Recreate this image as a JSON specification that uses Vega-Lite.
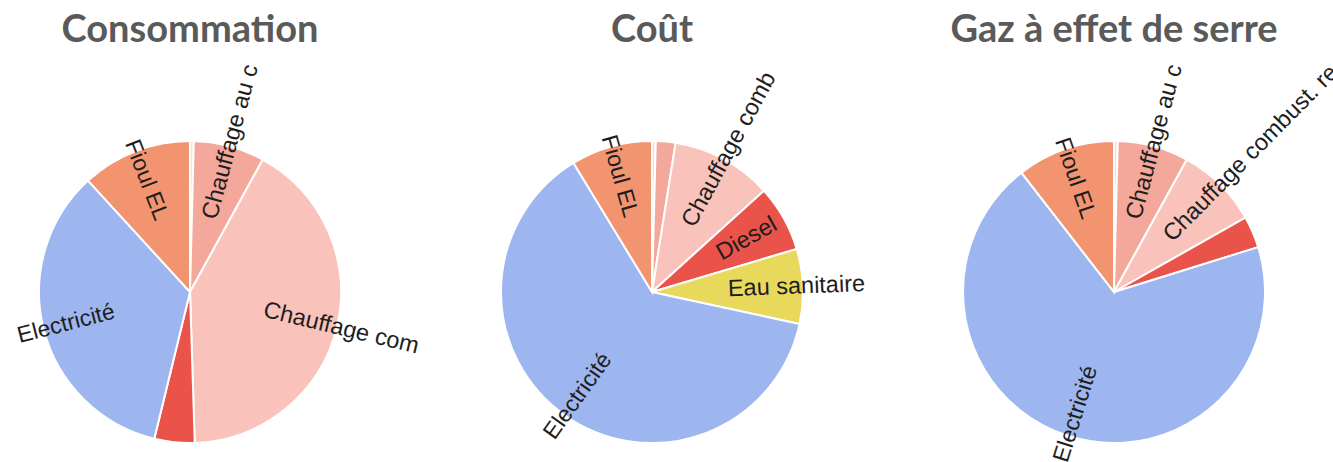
{
  "$schema": "https://vega.github.io/schema/vega-lite/v6.json",
  "padding": {"left": 0, "right": 0, "top": 12, "bottom": 0},
  "bounds": "flush",
  "spacing": 82,
  "background": "white",
  "data": {
    "values": [
      {"panel": "Consommation", "cat": "Autres", "label": "", "v": 0.4},
      {"panel": "Consommation", "cat": "Chauffage au c", "label": "Chauffage au c", "v": 7.6},
      {"panel": "Consommation", "cat": "Chauffage combust. re", "label": "Chauffage com", "v": 41.5},
      {"panel": "Consommation", "cat": "Diesel", "label": "Diesel", "v": 4.3},
      {"panel": "Consommation", "cat": "Electricité", "label": "Electricité", "v": 34.4},
      {"panel": "Consommation", "cat": "Fioul EL", "label": "Fioul EL", "v": 11.8},
      {"panel": "Coût", "cat": "Autres", "label": "", "v": 0.4},
      {"panel": "Coût", "cat": "Chauffage au c", "label": "Chauffage au c", "v": 2.1},
      {"panel": "Coût", "cat": "Chauffage combust. re", "label": "Chauffage comb", "v": 10.8},
      {"panel": "Coût", "cat": "Diesel", "label": "Diesel", "v": 7.1},
      {"panel": "Coût", "cat": "Eau sanitaire", "label": "Eau sanitaire", "v": 8.0},
      {"panel": "Coût", "cat": "Electricité", "label": "Electricité", "v": 62.9},
      {"panel": "Coût", "cat": "Fioul EL", "label": "Fioul EL", "v": 8.7},
      {"panel": "Gaz à effet de serre", "cat": "Autres", "label": "", "v": 0.4},
      {"panel": "Gaz à effet de serre", "cat": "Chauffage au c", "label": "Chauffage au c", "v": 7.6},
      {"panel": "Gaz à effet de serre", "cat": "Chauffage combust. re", "label": "Chauffage combust. re", "v": 8.8},
      {"panel": "Gaz à effet de serre", "cat": "Diesel", "label": "Diesel", "v": 3.4},
      {"panel": "Gaz à effet de serre", "cat": "Electricité", "label": "Electricité", "v": 69.3},
      {"panel": "Gaz à effet de serre", "cat": "Fioul EL", "label": "Fioul EL", "v": 10.5}
    ]
  },
  "facet": {
    "column": {
      "field": "panel",
      "type": "nominal",
      "sort": ["Consommation", "Coût", "Gaz à effet de serre"],
      "header": {
        "title": null,
        "labelFont": "Lato",
        "labelFontSize": 38,
        "labelFontWeight": "bold",
        "labelColor": "#5a5a5a",
        "labelPadding": 72
      }
    }
  },
  "spec": {
    "width": 380,
    "height": 340,
    "layer": [
      {
        "mark": {"type": "arc", "outerRadius": 151, "stroke": "white", "strokeWidth": 2},
        "encoding": {
          "theta": {"field": "v", "type": "quantitative", "stack": true},
          "color": {
            "field": "cat",
            "type": "nominal",
            "legend": null,
            "scale": {
              "domain": ["Autres", "Chauffage au c", "Chauffage combust. re", "Diesel", "Eau sanitaire", "Electricité", "Fioul EL"],
              "range": ["#f6dcd6", "#f4a79b", "#f9c3bc", "#ea534a", "#e8d95c", "#9db6ef", "#f39470"]
            }
          }
        }
      },
      {
        "transform": [
          {"fold": ["v", "v"], "as": ["k", "vv"]},
          {"window": [{"op": "row_number", "as": "copy"}], "groupby": ["panel", "cat"]},
          {"window": [{"op": "sum", "field": "vv", "as": "cum2"}], "groupby": ["panel"], "sort": [{"field": "cat"}, {"field": "copy"}], "frame": [null, 0]},
          {"filter": "datum.copy == 1 && datum.v >= 5 && datum.cum2 < 100"}
        ],
        "mark": {"type": "text", "radius": 76, "align": "left", "baseline": "middle", "font": "Liberation Sans", "fontSize": 23.5, "fill": "#1e1e1e"},
        "encoding": {
          "theta": {"field": "cum2", "type": "quantitative", "stack": null, "scale": {"domain": [0, 200]}},
          "angle": {"field": "cum2", "type": "quantitative", "scale": {"domain": [0, 200], "range": [-90, 270]}},
          "text": {"field": "label"}
        }
      },
      {
        "transform": [
          {"fold": ["v", "v"], "as": ["k", "vv"]},
          {"window": [{"op": "row_number", "as": "copy"}], "groupby": ["panel", "cat"]},
          {"window": [{"op": "sum", "field": "vv", "as": "cum2"}], "groupby": ["panel"], "sort": [{"field": "cat"}, {"field": "copy"}], "frame": [null, 0]},
          {"filter": "datum.copy == 1 && datum.v >= 5 && datum.cum2 >= 100"}
        ],
        "mark": {"type": "text", "radius": 78, "align": "right", "baseline": "middle", "font": "Liberation Sans", "fontSize": 23, "fill": "#1e1e1e"},
        "encoding": {
          "theta": {"field": "cum2", "type": "quantitative", "stack": null, "scale": {"domain": [0, 200]}},
          "angle": {"field": "cum2", "type": "quantitative", "scale": {"domain": [0, 200], "range": [90, 450]}},
          "text": {"field": "label"}
        }
      }
    ],
    "resolve": {"scale": {"theta": "independent", "angle": "independent"}}
  },
  "config": {"view": {"stroke": null}}
}
